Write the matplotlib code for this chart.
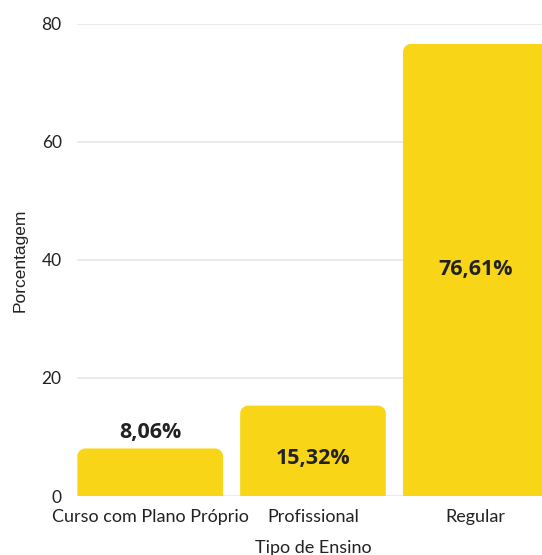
import matplotlib
matplotlib.use("Agg")
import matplotlib.pyplot as plt
from matplotlib.path import Path
from matplotlib.patches import PathPatch

categories = ["Curso com Plano Próprio", "Profissional", "Regular"]
values = [8.06, 15.32, 76.61]
labels = ["8,06%", "15,32%", "76,61%"]
yticks = [0, 20, 40, 60, 80]

BAR = "#F8D617"
TXT = "#222222"

fig = plt.figure(figsize=(5.42, 5.55), dpi=100)
ax = fig.add_axes([0.142, 0.1063, 0.871, 0.8505])

bars = ax.bar(range(len(categories)), values, width=0.895, color=BAR, zorder=2)
ax.set_xlim(-0.45, 2.45)
ax.set_ylim(0, 80)

# rounded top corners
rx = 0.05
ry = 1.35
for b in bars:
    x0, y0 = b.get_x(), b.get_y()
    w, h = b.get_width(), b.get_height()
    x1, y1 = x0 + w, y0 + h
    k = 0.5523
    verts = [
        (x0, y0), (x0, y1 - ry),
        (x0, y1 - ry + k * ry), (x0 + rx - k * rx, y1), (x0 + rx, y1),
        (x1 - rx, y1),
        (x1 - rx + k * rx, y1), (x1, y1 - ry + k * ry), (x1, y1 - ry),
        (x1, y0), (x0, y0),
    ]
    codes = [Path.MOVETO, Path.LINETO,
             Path.CURVE4, Path.CURVE4, Path.CURVE4,
             Path.LINETO,
             Path.CURVE4, Path.CURVE4, Path.CURVE4,
             Path.LINETO, Path.CLOSEPOLY]
    patch = PathPatch(Path(verts, codes), facecolor=BAR, edgecolor="none", zorder=2)
    b.set_visible(False)
    ax.add_patch(patch)

# value labels
lab_kw = dict(fontsize=15.5, fontweight="bold", color=TXT, family="Open Sans", zorder=3)
ax.text(0, values[0] + 1.0, labels[0], ha="center", va="bottom", **lab_kw)
ax.text(1, values[1] / 2 - 1.3, labels[1], ha="center", va="center", **lab_kw)
ax.text(2, values[2] / 2, labels[2], ha="center", va="center", **lab_kw)

ax.set_yticks(yticks)
ax.set_yticklabels([str(t) for t in yticks], fontsize=12.5, family="Lato", color=TXT)
ax.set_xticks(range(len(categories)))
ax.set_xticklabels(categories, fontsize=13, family="Lato", color=TXT)
ax.tick_params(axis="y", length=0, pad=11)
ax.tick_params(axis="x", length=0, pad=9)

ax.grid(axis="y", color="#EBEBEB", linewidth=1.4, zorder=0)
ax.set_axisbelow(True)
for s in ax.spines.values():
    s.set_visible(False)

ax.set_ylabel("Porcentagem", fontsize=12.5, family="Liberation Sans", color=TXT, labelpad=10)
ax.set_xlabel("Tipo de Ensino", fontsize=13, family="Lato", color=TXT, labelpad=11)

fig.savefig("out.png", dpi=100, facecolor="white")
